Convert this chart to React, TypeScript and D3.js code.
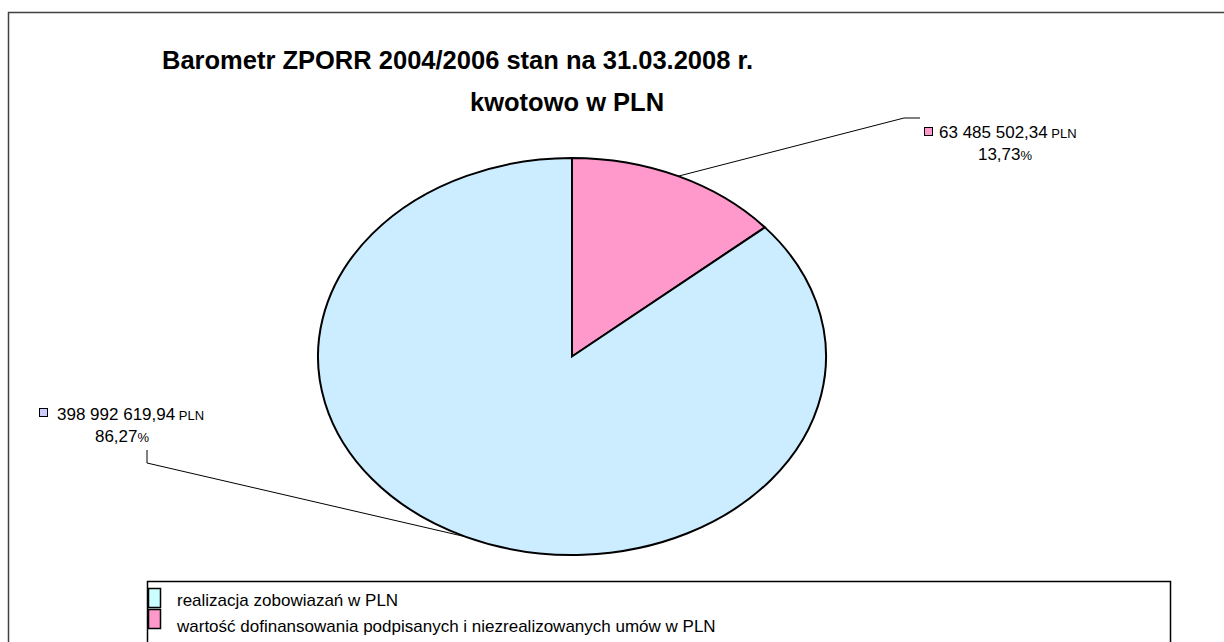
import React from "react";
import * as d3 from "d3";

const categories = [
  "realizacja zobowiazań w PLN",
  "wartość dofinansowania podpisanych i niezrealizowanych umów w PLN",
];
const values = [398992619.94, 63485502.34];
const valueLabels = ["398 992 619,94", "63 485 502,34"];
const percentLabels = ["86,27", "13,73"];
const titleLines = ["Barometr ZPORR 2004/2006 stan na 31.03.2008 r.", "kwotowo w PLN"];

const sliceColors = ["#CCECFF", "#FF99CC"];
const legendColors = ["#CCFFFF", "#FF99CC"];
const markerColors = ["#CCCCFF", "#FF99CC"];

const W = 1224;
const H = 642;
const cx = 572;
const cy = 356.5;
const rx = 254;
const ry = 198.5;
const FONT = "'Liberation Sans', Arial, sans-serif";

export default function App() {
  // pink slice starts at 12 o'clock going clockwise, blue fills the rest
  const order = [1, 0];
  const pie = d3
    .pie<number>()
    .sort(null)
    .value((i) => values[i])
    .startAngle(0)
    .endAngle(2 * Math.PI);
  const arcs = pie(order);
  const arc = d3.arc<d3.PieArcDatum<number>>().innerRadius(0).outerRadius(rx);

  const edge = (a: number) => [cx + rx * Math.sin(a), cy - ry * Math.cos(a)];

  // label layouts (anchor of the leader elbow and text block)
  const labelLayout: Record<number, { mx: number; my: number; tx: number; ty: number; px: number; elbow: [number, number][] }> = {
    1: { mx: 924, my: 127, tx: 939, ty: 138, px: 1005, elbow: [[904, 118], [920, 118]] },
    0: { mx: 39, my: 408, tx: 57, ty: 420, px: 122, elbow: [[147, 463], [147, 450]] },
  };

  return (
    <svg width={W} height={H} style={{ position: "absolute", left: 0, top: 0, background: "#fff" }} fontFamily={FONT}>
      <rect x={0} y={0} width={W} height={H} fill="#fff" />
      {/* outer chart frame */}
      <path d={`M8.5,${H + 2} L8.5,12.5 L${W + 2},12.5`} fill="none" stroke="#404040" strokeWidth={1.5} />

      {/* title */}
      <text x={162} y={69} fontSize={25.5} fontWeight="bold" fill="#000">
        {titleLines[0]}
      </text>
      <text x={470} y={111} fontSize={25.5} fontWeight="bold" fill="#000">
        {titleLines[1]}
      </text>

      {/* pie */}
      <g transform={`translate(${cx},${cy}) scale(1,${ry / rx})`}>
        {arcs.map((d) => (
          <path
            key={d.data}
            d={arc(d) || ""}
            fill={sliceColors[d.data]}
            stroke="#000"
            strokeWidth={2}
            vectorEffect="non-scaling-stroke"
          />
        ))}
      </g>

      {/* data labels with leader lines */}
      {arcs.map((d) => {
        const L = labelLayout[d.data];
        const mid = (d.startAngle + d.endAngle) / 2;
        const [ex, ey] = edge(mid);
        const pts = [[ex, ey], ...L.elbow];
        return (
          <g key={"lab" + d.data}>
            <polyline
              points={pts.map((p) => p.join(",")).join(" ")}
              fill="none"
              stroke="#000"
              strokeWidth={1}
            />
            <rect x={L.mx + 0.5} y={L.my + 0.5} width={8} height={8} fill={markerColors[d.data]} stroke="#000" strokeWidth={1} />
            <text x={L.tx} y={L.ty} fontSize={17} fill="#000">
              {valueLabels[d.data]}
              <tspan fontSize={13}> PLN</tspan>
            </text>
            <text x={L.px} y={L.ty + 22} fontSize={17} fill="#000" textAnchor="middle">
              {percentLabels[d.data]}
              <tspan fontSize={13}>%</tspan>
            </text>
          </g>
        );
      })}

      {/* legend */}
      <path d={`M147.5,${H + 2} L147.5,581.5 L1170.5,581.5 L1170.5,${H + 2}`} fill="none" stroke="#000" strokeWidth={1.5} />
      {categories.map((c, i) => (
        <g key={c}>
          <rect x={148.5} y={588.5 + i * 21} width={12} height={19} fill={legendColors[i]} stroke="#000" strokeWidth={1.5} />
          <text x={177} y={606 + i * 26} fontSize={17} fill="#000">
            {c}
          </text>
        </g>
      ))}
    </svg>
  );
}
